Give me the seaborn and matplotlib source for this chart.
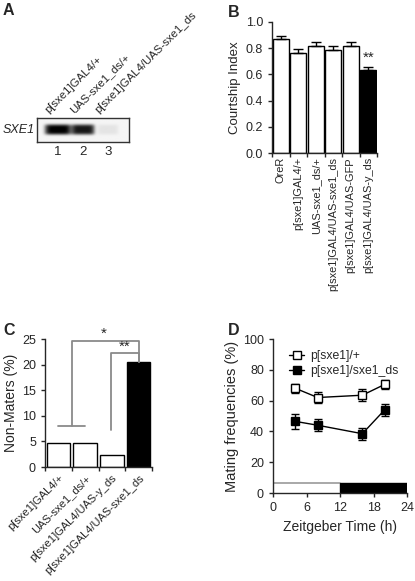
import numpy as np
import pandas as pd
import matplotlib
matplotlib.use("Agg")
import matplotlib.pyplot as plt
import seaborn as sns

sns.set_style("ticks")
plt.rcParams['font.family'] = ['Liberation Sans', 'DejaVu Sans']
plt.rcParams['axes.linewidth'] = 1.0

# panel A: western blot
gel_lanes = ["p[sxe1]GAL4/+", "UAS-sxe1_ds/+", "p[sxe1]GAL4/UAS-sxe1_ds"]
gel_numbers = ["1", "2", "3"]
band_intensity = [1.0, 0.9, 0.07]
band_width = [1.05, 0.92, 0.85]

# panel B: courtship index
b_groups = ["OreR", "p[sxe1]GAL4/+", "UAS-sxe1_ds/+", "p[sxe1]GAL4/UAS-sxe1_ds",
            "p[sxe1]GAL4/UAS-GFP", "p[sxe1]GAL4/UAS-y_ds"]
b_values = [0.87, 0.765, 0.815, 0.785, 0.815, 0.63]
b_err = [0.025, 0.03, 0.035, 0.03, 0.03, 0.03]
b_colors = ["white"] * 5 + ["black"]

# panel C: non-maters
c_groups = ["p[sxe1]GAL4/+", "UAS-sxe1_ds/+", "p[sxe1]GAL4/UAS-y_ds", "p[sxe1]GAL4/UAS-sxe1_ds"]
c_values = [4.6, 4.6, 2.3, 20.6]
c_colors = ["white", "white", "white", "black"]

# panel D: mating frequencies
zt = [4, 8, 16, 20]
ctrl_label = "p[sxe1]/+"
ctrl_mean = [68, 62, 63.5, 70.5]
ctrl_err = [3, 3.5, 4, 3]
kd_label = "p[sxe1]/sxe1_ds"
kd_mean = [46.5, 44, 38.5, 54]
kd_err = [5, 4, 4, 4]

W, H = 415, 581
fig = plt.figure(figsize=(W / 100, H / 100), dpi=100)


def box(l, t, r, b):
    return [l / W, 1 - b / H, (r - l) / W, (b - t) / H]


TICK = 9

# ---- A
axA = fig.add_axes(box(37, 118, 129, 142))
xs = np.linspace(0.16, 3.84, 300)
ys = np.linspace(0, 1, 60)
X, Y = np.meshgrid(xs, ys)
img = np.zeros_like(X)
for i, (inten, w) in enumerate(zip(band_intensity, band_width)):
    c = i + 1
    img += inten * np.exp(-((X - c) / (w / 2)) ** 6) * np.exp(-((Y - 0.5) / 0.21) ** 4)
axA.imshow(np.clip(img, 0, 1) * 0.97 + 0.04, cmap="gray_r", vmin=0, vmax=1, aspect="auto",
           extent=[0.16, 3.84, 0, 1], origin="lower", interpolation="bilinear")
axA.set_xlim(0.16, 3.84)
axA.set_ylim(0, 1)
axA.set_yticks([])
axA.set_xticks([1, 2, 3])
axA.set_xticklabels(gel_numbers, fontsize=9.5)
axA.tick_params(axis="x", length=0, pad=3)
for sp in axA.spines.values():
    sp.set_color("#333333")
for i, lab in enumerate(gel_lanes):
    axA.text(i + 0.7, 1.12, lab, rotation=45, rotation_mode="anchor", ha="left", va="bottom",
             fontsize=8.2, transform=axA.transData, clip_on=False)
axA.text(-0.02, 0.5, "SXE1", style="italic", fontsize=9, ha="right", va="center",
         transform=axA.transAxes)

# ---- B
axB = fig.add_axes(box(272, 22, 377, 153))
dfB = pd.DataFrame({"group": b_groups, "value": b_values})
sns.barplot(data=dfB, x="group", y="value", hue="group", palette=b_colors, edgecolor="black",
            linewidth=1, width=0.92, legend=False, ax=axB)
axB.errorbar(range(len(b_values)), b_values, yerr=[np.zeros(len(b_err)), b_err], fmt="none",
             ecolor="black", elinewidth=1, capsize=3.5, capthick=1)
axB.text(5, b_values[5] + b_err[5] + 0.01, "**", ha="center", va="bottom", fontsize=11)
axB.set_xlim(-0.5, 5.5)
axB.set_ylim(0, 1.0)
axB.set_yticks(np.arange(0, 1.01, 0.2))
axB.set_yticklabels([f"{v:.1f}" for v in np.arange(0, 1.01, 0.2)], fontsize=TICK)
axB.set_xticks(np.arange(-0.5, 6, 1))
axB.set_xticklabels([])
axB.set_xticks(range(6), minor=True)
axB.set_xticklabels(b_groups, minor=True, rotation=90, fontsize=7.9)
axB.tick_params(axis="x", which="minor", length=0, pad=3)
axB.tick_params(axis="both", which="major", length=3, width=1)
axB.set_xlabel("")
axB.set_ylabel("Courtship Index", fontsize=9.5, labelpad=3)
sns.despine(ax=axB)

# ---- C
axC = fig.add_axes(box(45, 339, 152, 467))
dfC = pd.DataFrame({"group": c_groups, "value": c_values})
sns.barplot(data=dfC, x="group", y="value", hue="group", palette=c_colors, edgecolor="black",
            linewidth=1, width=0.88, legend=False, ax=axC)
gray = "#8a8a8a"
axC.plot([0, 1], [8, 8], color=gray, lw=1.3, clip_on=False)
axC.plot([0.5, 0.5, 3, 3], [8, 24.7, 24.7, 20.6], color=gray, lw=1.3, clip_on=False)
axC.plot([1.95, 1.95, 3, 3], [7.3, 22.3, 22.3, 20.6], color=gray, lw=1.3, clip_on=False)
axC.text(1.7, 24.6, "*", ha="center", va="bottom", fontsize=11)
axC.text(2.47, 22.2, "**", ha="center", va="bottom", fontsize=11)
axC.set_xlim(-0.5, 3.5)
axC.set_ylim(0, 25)
axC.set_yticks(range(0, 26, 5))
axC.set_yticklabels([str(v) for v in range(0, 26, 5)], fontsize=TICK)
axC.set_xticks(np.arange(-0.5, 4, 1))
axC.set_xticklabels([])
axC.set_xticks(range(4), minor=True)
axC.set_xticklabels(c_groups, minor=True, rotation=45, ha="right", rotation_mode="anchor",
                    fontsize=8)
axC.tick_params(axis="x", which="minor", length=0, pad=4)
axC.tick_params(axis="both", which="major", length=3, width=1)
axC.set_xlabel("")
axC.set_ylabel("Non-Maters (%)", fontsize=10, labelpad=3)
sns.despine(ax=axC)

# ---- D
axD = fig.add_axes(box(273, 339, 407, 493))
for mean, err, face, lab in [(ctrl_mean, ctrl_err, "white", ctrl_label),
                             (kd_mean, kd_err, "black", kd_label)]:
    axD.errorbar(zt, mean, yerr=err, fmt="none", ecolor="black", elinewidth=1,
                 capsize=3, capthick=1, zorder=2)
    sns.lineplot(x=zt, y=mean, color="black", linewidth=1, marker="s", markersize=6,
                 markerfacecolor=face, markeredgecolor="black", markeredgewidth=1,
                 label=lab, ax=axD, zorder=3)
axD.legend(loc="upper left", bbox_to_anchor=(0.04, 1.0), frameon=False,
           fontsize=8.8, handlelength=1.2, handletextpad=0.5, labelspacing=0.25,
           markerscale=0.85)
axD.barh(3.25, 12, left=0, height=6.5, color="white", edgecolor="none", zorder=1)
axD.plot([0, 12], [6.5, 6.5], color="#999999", lw=1.2, zorder=1)
axD.barh(3.25, 12, left=12, height=6.5, color="black", edgecolor="black", zorder=1)
axD.set_xlim(0, 24)
axD.set_ylim(0, 100)
axD.set_xticks(range(0, 25, 6))
axD.set_xticklabels([str(v) for v in range(0, 25, 6)], fontsize=TICK)
axD.set_yticks(range(0, 101, 20))
axD.set_yticklabels([str(v) for v in range(0, 101, 20)], fontsize=TICK)
axD.tick_params(axis="both", length=3, width=1)
axD.set_xlabel("Zeitgeber Time (h)", fontsize=10, labelpad=4)
axD.set_ylabel("Mating frequencies (%)", fontsize=10.5, labelpad=3)
sns.despine(ax=axD)

for lab, x, y in [("A", 3, 3), ("B", 228, 5), ("C", 3, 323), ("D", 228, 323)]:
    fig.text(x / W, 1 - y / H, lab, fontsize=11.5, fontweight="bold", ha="left", va="top")

fig.savefig("out.png", dpi=100)
